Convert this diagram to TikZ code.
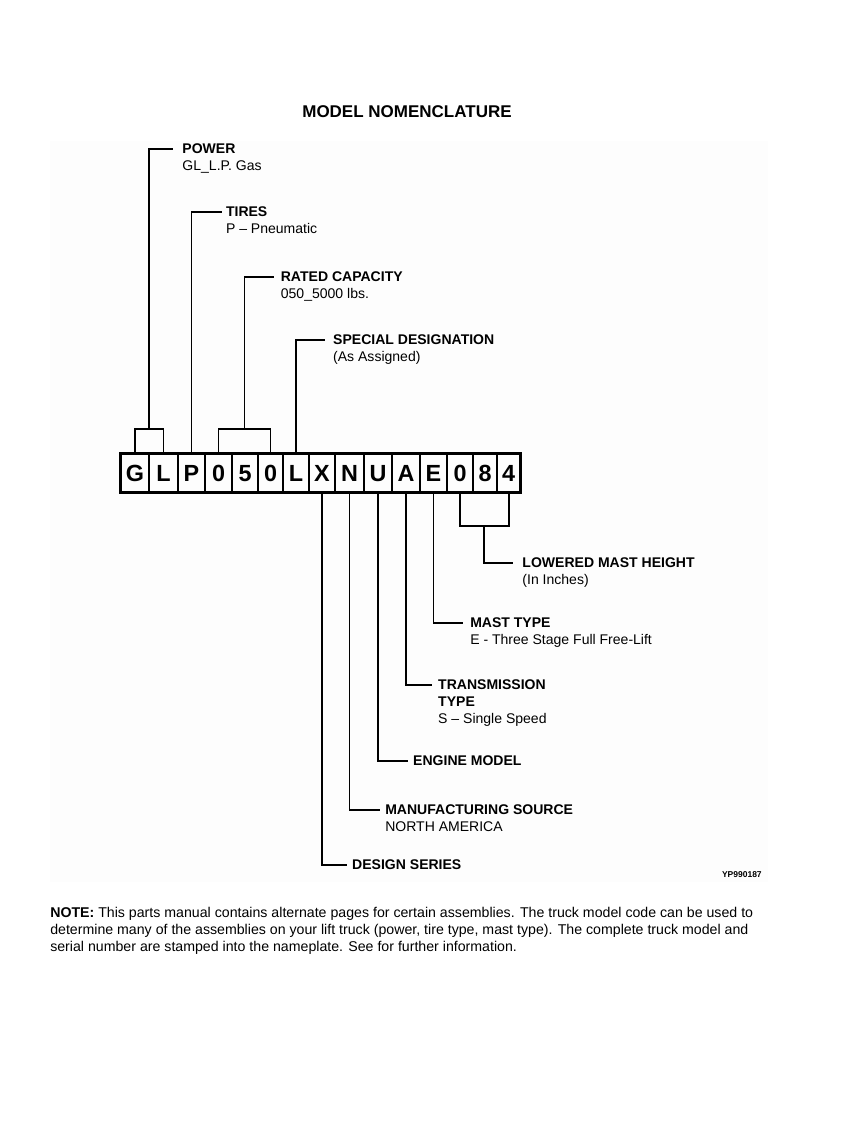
\documentclass[tikz,border=0pt]{standalone}
\usepackage{fontspec}
\setmainfont{Liberation Sans}
\usepackage{tikz}
\usetikzlibrary{positioning,calc}
\definecolor{nmPaper}{RGB}{253,253,253}

\begin{document}
\begin{tikzpicture}[
  x=0.7059pt, y=-0.7059pt,
  every node/.append style={inner sep=0pt},
  cell/.style={draw, line width=1.4pt, minimum height=38*0.7059pt, text height=11.8pt, text depth=0pt, font=\fontsize{16.5}{18}\selectfont\bfseries},
  lead/.style={line width=1.4pt},
  lbl/.style={anchor=north west, align=left, font=\fontsize{9.9}{11.8}\selectfont},
]
\useasboundingbox (0,0) rectangle (866,1122);
\fill[nmPaper] (50,141) rectangle (768,882);
\node[font=\fontsize{12}{14}\selectfont\bfseries] (title) at (407,112) {MODEL NOMENCLATURE};
% model code boxes
\foreach \ch/\cx/\w [count=\i] in {G/135/28, L/163.5/29, P/191.5/27, 0/218.5/27, 5/245/26, 0/270.5/25, L/296/26, X/322/26, N/349.5/29, U/378/28, A/406/28, E/433.5/27, 0/460/26, 8/485/24, 4/508.5/23}
  \node[cell, minimum width=\w*0.7059pt] (c\i) at (\cx,473) {\ch};
\draw[line width=2.1pt] (c1.north west) rectangle (c15.south east);
\coordinate (topbar) at (0,429);
\coordinate (botbar) at (0,526);
% leads above the code
\draw[lead] (c1.north) |- (c2.north |- topbar) -- (c2.north);
\coordinate (pwstem) at ($(c1.north |- topbar)!0.5!(c2.north |- topbar)$);
\draw[lead] (pwstem) -- (pwstem |- 0,149) -- ++(24,0) coordinate (pw);
\node[lbl] (power) at ([shift={(6.3pt,3.6pt)}]pw) {\textbf{POWER}\\GL\_L.P. Gas};
\draw[lead] (c3.north) -- (c3.north |- 0,212) -- ++(30,0) coordinate (tr);
\node[lbl] (tires) at ([shift={(3pt,3.6pt)}]tr) {\textbf{TIRES}\\P -- Pneumatic};
\draw[lead] (c4.north) |- (c6.north |- topbar) -- (c6.north);
\coordinate (rcstem) at ($(c4.north |- topbar)!0.5!(c6.north |- topbar)$);
\draw[lead] (rcstem) -- (rcstem |- 0,277) -- ++(29,0) coordinate (rc);
\node[lbl] (capacity) at ([shift={(5pt,3.6pt)}]rc) {\textbf{RATED CAPACITY}\\050\_5000 lbs.};
\draw[lead] (c7.north) -- (c7.north |- 0,340) -- ++(29,0) coordinate (sd);
\node[lbl] (special) at ([shift={(5.6pt,3.6pt)}]sd) {\textbf{SPECIAL DESIGNATION}\\(As Assigned)};
% leads below the code
\draw[lead] (c13.south) |- (c15.south |- botbar) -- (c15.south);
\coordinate (mhstem) at ($(c13.south |- botbar)!0.5!(c15.south |- botbar)$);
\draw[lead] (mhstem) -- (mhstem |- 0,563) -- ++(29,0) coordinate (mh);
\node[lbl] (height) at ([shift={(6.3pt,3.6pt)}]mh) {\textbf{LOWERED MAST HEIGHT}\\(In Inches)};
\draw[lead] (c12.south) -- (c12.south |- 0,623) -- ++(29,0) coordinate (mt);
\node[lbl] (masttype) at ([shift={(5.3pt,3.6pt)}]mt) {\textbf{MAST TYPE}\\E - Three Stage Full Free-Lift};
\draw[lead] (c11.south) -- (c11.south |- 0,685) -- ++(26,0) coordinate (tt);
\node[lbl] (trans) at ([shift={(4.2pt,3.6pt)}]tt) {\textbf{TRANSMISSION}\\\textbf{TYPE}\\S -- Single Speed};
\draw[lead] (c10.south) -- (c10.south |- 0,761) -- ++(30,0) coordinate (em);
\node[lbl] (engine) at ([shift={(3.5pt,3.6pt)}]em) {\textbf{ENGINE MODEL}};
\draw[lead] (c9.south) -- (c9.south |- 0,810) -- ++(30,0) coordinate (ms);
\node[lbl] (source) at ([shift={(3.9pt,3.6pt)}]ms) {\textbf{MANUFACTURING SOURCE}\\NORTH AMERICA};
\draw[lead] (c8.south) -- (c8.south |- 0,865) -- ++(25,0) coordinate (ds);
\node[lbl] (series) at ([shift={(3.5pt,3.6pt)}]ds) {\textbf{DESIGN SERIES}};
\node[anchor=east, font=\fontsize{6}{7}\selectfont\bfseries] (figcode) at (762,875) {YP990187};
% note under the figure
\node[anchor=north west, align=left, font=\fontsize{10}{12}\selectfont] (note) at (50,907) {\textbf{NOTE:} This parts manual contains alternate pages for certain assemblies. The truck model code can be used to\\determine many of the assemblies on your lift truck (power, tire type, mast type). The complete truck model and\\serial number are stamped into the nameplate. See for further information.};
\end{tikzpicture}
\end{document}
